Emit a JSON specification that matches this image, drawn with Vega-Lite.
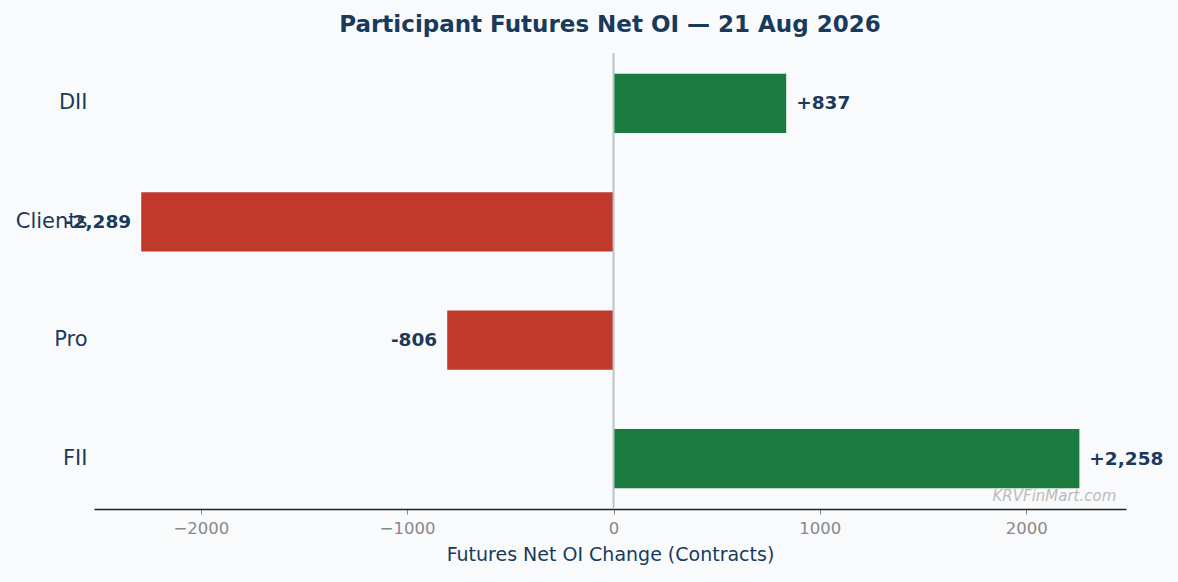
{
  "$schema": "https://vega.github.io/schema/vega-lite/v6.json",
  "width": 1032,
  "height": 456,
  "autosize": "none",
  "padding": {"left": 94, "top": 53, "right": 52, "bottom": 73},
  "background": "#f8fafc",
  "title": {
    "text": "Participant Futures Net OI — 21 Aug 2026",
    "font": "DejaVu Sans",
    "fontSize": 23,
    "fontWeight": "bold",
    "color": "#1a3a5c",
    "anchor": "middle",
    "offset": 15
  },
  "data": {
    "values": [
      {"participant": "DII", "value": 837, "label": "+837"},
      {"participant": "Clients", "value": -2289, "label": "-2,289"},
      {"participant": "Pro", "value": -806, "label": "-806"},
      {"participant": "FII", "value": 2258, "label": "+2,258"}
    ]
  },
  "encoding": {
    "y": {
      "field": "participant",
      "type": "nominal",
      "sort": ["DII", "Clients", "Pro", "FII"],
      "scale": {"paddingInner": 0.5, "paddingOuter": 0.175},
      "axis": {
        "title": null,
        "domain": false,
        "ticks": false,
        "labelFont": "DejaVu Sans",
        "labelFontSize": 21,
        "labelColor": "#1a3a5c",
        "labelPadding": 7
      }
    },
    "x": {
      "field": "value",
      "type": "quantitative",
      "scale": {"domain": [-2518, 2484], "nice": false, "zero": false},
      "axis": {
        "title": "Futures Net OI Change (Contracts)",
        "titleFont": "DejaVu Sans",
        "titleFontSize": 19,
        "titleFontWeight": "normal",
        "titleColor": "#1a3a5c",
        "titlePadding": 9,
        "values": [-2000, -1000, 0, 1000, 2000],
        "format": "d",
        "grid": false,
        "domainColor": "#222222",
        "domainWidth": 1.6,
        "tickColor": "#888888",
        "tickSize": 5,
        "labelFont": "DejaVu Sans",
        "labelFontSize": 16.5,
        "labelColor": "#888888",
        "labelPadding": 6
      }
    }
  },
  "layer": [
    {
      "mark": {"type": "bar"},
      "encoding": {
        "x2": {"datum": 0},
        "color": {
          "condition": {"test": "datum.value >= 0", "value": "#1b7a3d"},
          "value": "#c0392b"
        }
      }
    },
    {
      "mark": {"type": "rule", "color": "#b8c4ce", "strokeWidth": 1.3},
      "encoding": {"x": {"datum": 0}, "y": null}
    },
    {
      "transform": [{"filter": "datum.value >= 0"}],
      "mark": {
        "type": "text",
        "align": "left",
        "baseline": "middle",
        "dx": 10,
        "font": "DejaVu Sans",
        "fontSize": 18.5,
        "fontWeight": "bold",
        "color": "#1a3a5c"
      },
      "encoding": {"text": {"field": "label"}}
    },
    {
      "transform": [{"filter": "datum.value < 0"}],
      "mark": {
        "type": "text",
        "align": "right",
        "baseline": "middle",
        "dx": -10,
        "font": "DejaVu Sans",
        "fontSize": 18.5,
        "fontWeight": "bold",
        "color": "#1a3a5c"
      },
      "encoding": {"text": {"field": "label"}}
    },
    {
      "data": {"values": [{"participant": "FII", "value": 2437, "label": "KRVFinMart.com"}]},
      "mark": {
        "type": "text",
        "align": "right",
        "baseline": "middle",
        "font": "DejaVu Sans",
        "fontSize": 15,
        "fontStyle": "italic",
        "color": "#bbbbbb",
        "yOffset": 37
      },
      "encoding": {"text": {"field": "label"}}
    }
  ],
  "config": {"view": {"stroke": null}}
}
